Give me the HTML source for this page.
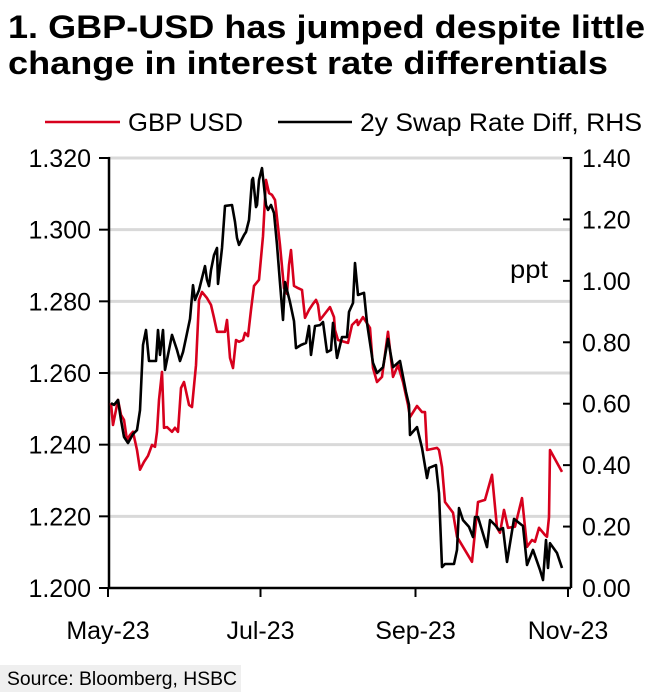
<!DOCTYPE html>
<html><head><meta charset="utf-8"><style>
body{margin:0;background:#fff;}
svg{display:block;font-family:"Liberation Sans Narrow","Liberation Sans",sans-serif;}
</style></head><body>
<svg id="chart" width="672" height="698" viewBox="0 0 672 698" xmlns="http://www.w3.org/2000/svg">
<text x="8" y="38" font-size="32" font-weight="bold" textLength="637" lengthAdjust="spacingAndGlyphs">1. GBP-USD has jumped despite little</text>
<text x="8" y="74" font-size="32" font-weight="bold" textLength="600" lengthAdjust="spacingAndGlyphs">change in interest rate differentials</text>
<g>
<line x1="45" y1="122" x2="120" y2="122" stroke="#d7001d" stroke-width="2.5"/>
<text x="128" y="131" font-size="25" textLength="115" lengthAdjust="spacingAndGlyphs">GBP USD</text>
<line x1="278" y1="122" x2="352" y2="122" stroke="#000" stroke-width="2.5"/>
<text x="360" y="131" font-size="25" textLength="282" lengthAdjust="spacingAndGlyphs">2y Swap Rate Diff, RHS</text>
</g>
<g id="grid"></g>
<g id="axes"></g>
<g id="series"></g>
<text x="510" y="278" font-size="25" textLength="38" lengthAdjust="spacingAndGlyphs">ppt</text>
<rect x="0" y="665" width="241" height="27" fill="#efefef"/>
<text x="7" y="685" font-size="19" textLength="230" lengthAdjust="spacingAndGlyphs">Source: Bloomberg, HSBC</text>
</svg>
<script>
// days since 1 May 2023
const gbpDays = [1.2,2,4,5.2,6.4,7.6,8.8,10,11.6,12.8,14.4,16,17.6,18.8,19.6,20.4,21.6,22.4,23.6,25.6,26.8,28,29.2,30.4,32.4,33.6,35.2,36.4,37.6,39.6,41.2,42.4,43.6,46.8,47.6,48.8,50,51.2,52.4,54,54.8,56,57.2,58.4,60.4,62,63.2,64.4,65.6,66.8,68.8,70.4,71.6,72.4,73.2,74.4,76,77.6,78.8,80.4,82,83.2,84,84.8,88.8,90.4,90.8,92,96,97.6,99.6,100,102,104.8,106,107.6,109.6,112,114,116,118,120,120.8,123.6,125.6,126.8,127.6,131.6,132.4,133.6,134.8,138,139.6,145.6,148,150.8,153.6,155.6,156.8,158.4,160,162.8,165.6,167.6,169.6,170.8,172.4,174.8,175.6,176.4,176.8,181.6];
const gbpValues = [1.2516,1.2455,1.2525,1.2483,1.2469,1.2413,1.2427,1.2436,1.2385,1.2330,1.2352,1.2369,1.2399,1.2394,1.2436,1.2525,1.2603,1.2447,1.2449,1.2436,1.2447,1.2436,1.2558,1.2575,1.2511,1.2505,1.2622,1.2804,1.2826,1.2809,1.2790,1.2754,1.2715,1.2715,1.2748,1.2642,1.2614,1.2692,1.2687,1.2692,1.2712,1.2703,1.2776,1.2843,1.2860,1.2982,1.3139,1.3102,1.3097,1.3083,1.2957,1.2837,1.2821,1.2901,1.2943,1.2843,1.2837,1.2832,1.2754,1.2776,1.2793,1.2804,1.2790,1.2748,1.2784,1.2756,1.2720,1.2692,1.2684,1.2734,1.2748,1.2734,1.2756,1.2726,1.2614,1.2575,1.2589,1.2715,1.2589,1.2622,1.2575,1.2511,1.2477,1.2508,1.2491,1.2491,1.2385,1.2391,1.2385,1.2338,1.2240,1.2210,1.2143,1.2073,1.2240,1.2246,1.2316,1.2168,1.2154,1.2218,1.2168,1.2171,1.2251,1.2115,1.2134,1.2129,1.2168,1.2148,1.2143,1.2198,1.2385,1.2324];
const swapDays = [1.2,2.4,4,5.2,6.4,8,10,11.6,12.8,14,15.2,16.4,19.2,20,20.8,22,22.8,24,25.6,27.6,28.8,30,31.2,32.8,34,34.8,36.4,37.6,38.8,39.6,40.4,41.2,42.4,43.6,44,45.6,46.8,49.6,50.8,51.6,52.4,54.4,55.2,56.4,57.6,58,59.2,59.6,60.4,61.6,63.2,64,65.2,66.4,67.6,68.8,70,70.8,71.6,72.8,74.4,75.2,77.2,79.2,80.4,81.2,82.8,84.8,86,87.6,89.2,90,91.6,93.6,95.6,96.4,98,98.8,100,102.4,103.6,106,107.6,110,112,114,116.8,119.2,120.4,120.8,123.6,125.6,127.6,128.4,131.2,132.4,133.6,134.8,138.4,139.6,140.4,142,144.4,146,146.8,148,151.6,152.8,154.8,156.4,158,159.6,162.4,166,167.6,170,172.8,174,175.2,176,176.8,179.6,181.6];
const swapValues = [0.602,0.596,0.612,0.547,0.492,0.472,0.501,0.514,0.579,0.791,0.840,0.739,0.739,0.840,0.759,0.840,0.710,0.759,0.824,0.775,0.739,0.768,0.814,0.876,0.986,0.938,0.970,1.009,1.048,1.003,0.983,1.035,1.084,1.107,0.990,1.107,1.244,1.247,1.192,1.140,1.117,1.149,1.159,1.198,1.328,1.335,1.240,1.247,1.328,1.367,1.247,1.231,1.247,1.221,1.117,0.993,0.873,0.996,0.970,0.931,0.869,0.781,0.791,0.798,0.853,0.759,0.853,0.856,0.866,0.768,0.775,0.863,0.749,0.817,0.817,0.899,0.928,1.058,0.954,0.961,0.863,0.733,0.700,0.719,0.811,0.719,0.739,0.638,0.596,0.498,0.524,0.456,0.358,0.391,0.400,0.309,0.068,0.078,0.078,0.124,0.260,0.221,0.199,0.166,0.231,0.231,0.133,0.221,0.205,0.189,0.195,0.085,0.225,0.202,0.075,0.124,0.059,0.026,0.156,0.065,0.146,0.114,0.065];
const leftTicks = [1.200,1.220,1.240,1.260,1.280,1.300,1.320];
const rightTicks = [0.00,0.20,0.40,0.60,0.80,1.00,1.20,1.40];
const xTickDays = [0,61,123,184];
const xTickLabels = ["May-23","Jul-23","Sep-23","Nov-23"];

const NS="http://www.w3.org/2000/svg";
const X0=108, X1=568, Y0=588, Y1=158;
const xS=d=>X0+(d/184)*(X1-X0);
const yL=v=>Y0-(v-1.200)/0.120*(Y0-Y1);
const yR=v=>Y0-(v/1.40)*(Y0-Y1);
function mk(tag,parent,attrs){const e=document.createElementNS(NS,tag);for(const k in attrs)e.setAttribute(k,attrs[k]);parent.appendChild(e);return e;}
const grid=document.getElementById('grid'),axes=document.getElementById('axes'),series=document.getElementById('series');
leftTicks.forEach(t=>{
  const y=yL(t);
  if(t>1.2001){const g=mk('line',grid,{x1:X0,x2:571,y1:y,y2:y,stroke:'#d9d9d9','stroke-width':3});
  
  }
  const tk=mk('line',axes,{x1:X0-9,x2:X0,y1:y,y2:y,stroke:'#000','stroke-width':2});
  
  
  const tx=mk('text',axes,{x:91,y:y+9,'font-size':25,'text-anchor':'end'});
  tx.textContent=t.toFixed(3);
  
  
});
rightTicks.forEach(t=>{
  const y=yR(t);
  const tk=mk('line',axes,{x1:571-8,x2:571,y1:y,y2:y,stroke:'#000','stroke-width':2});
  
  
  const tx=mk('text',axes,{x:582,y:y+9,'font-size':25});
  tx.textContent=t.toFixed(2);
  
  
});
xTickDays.forEach((d,i)=>{
  const x=xS(d);
  const tk=mk('line',axes,{x1:x,x2:x,y1:Y0,y2:Y0+9,stroke:'#000','stroke-width':2});
  
  
  const tx=mk('text',axes,{x:x,y:639,'font-size':25,'text-anchor':'middle'});
  tx.textContent=xTickLabels[i];
  
  
});
const la=mk('line',axes,{x1:X0+1,x2:X0+1,y1:Y1-1,y2:Y0,stroke:'#000','stroke-width':2.5});


const ra=mk('line',axes,{x1:571,x2:571,y1:Y1-1,y2:Y0,stroke:'#000','stroke-width':2.5});


const xa=mk('line',axes,{x1:X0,x2:571,y1:Y0,y2:Y0,stroke:'#000','stroke-width':2.5});


const gp=mk('polyline',series,{points:gbpDays.map((d,i)=>xS(d).toFixed(1)+','+yL(gbpValues[i]).toFixed(1)).join(' '),fill:'none',stroke:'#d7001d','stroke-width':2.6,'stroke-linejoin':'round'});


const sp=mk('polyline',series,{points:swapDays.map((d,i)=>xS(d).toFixed(1)+','+yR(swapValues[i]).toFixed(1)).join(' '),fill:'none',stroke:'#000','stroke-width':2.6,'stroke-linejoin':'round'});


</script>
</body></html>
